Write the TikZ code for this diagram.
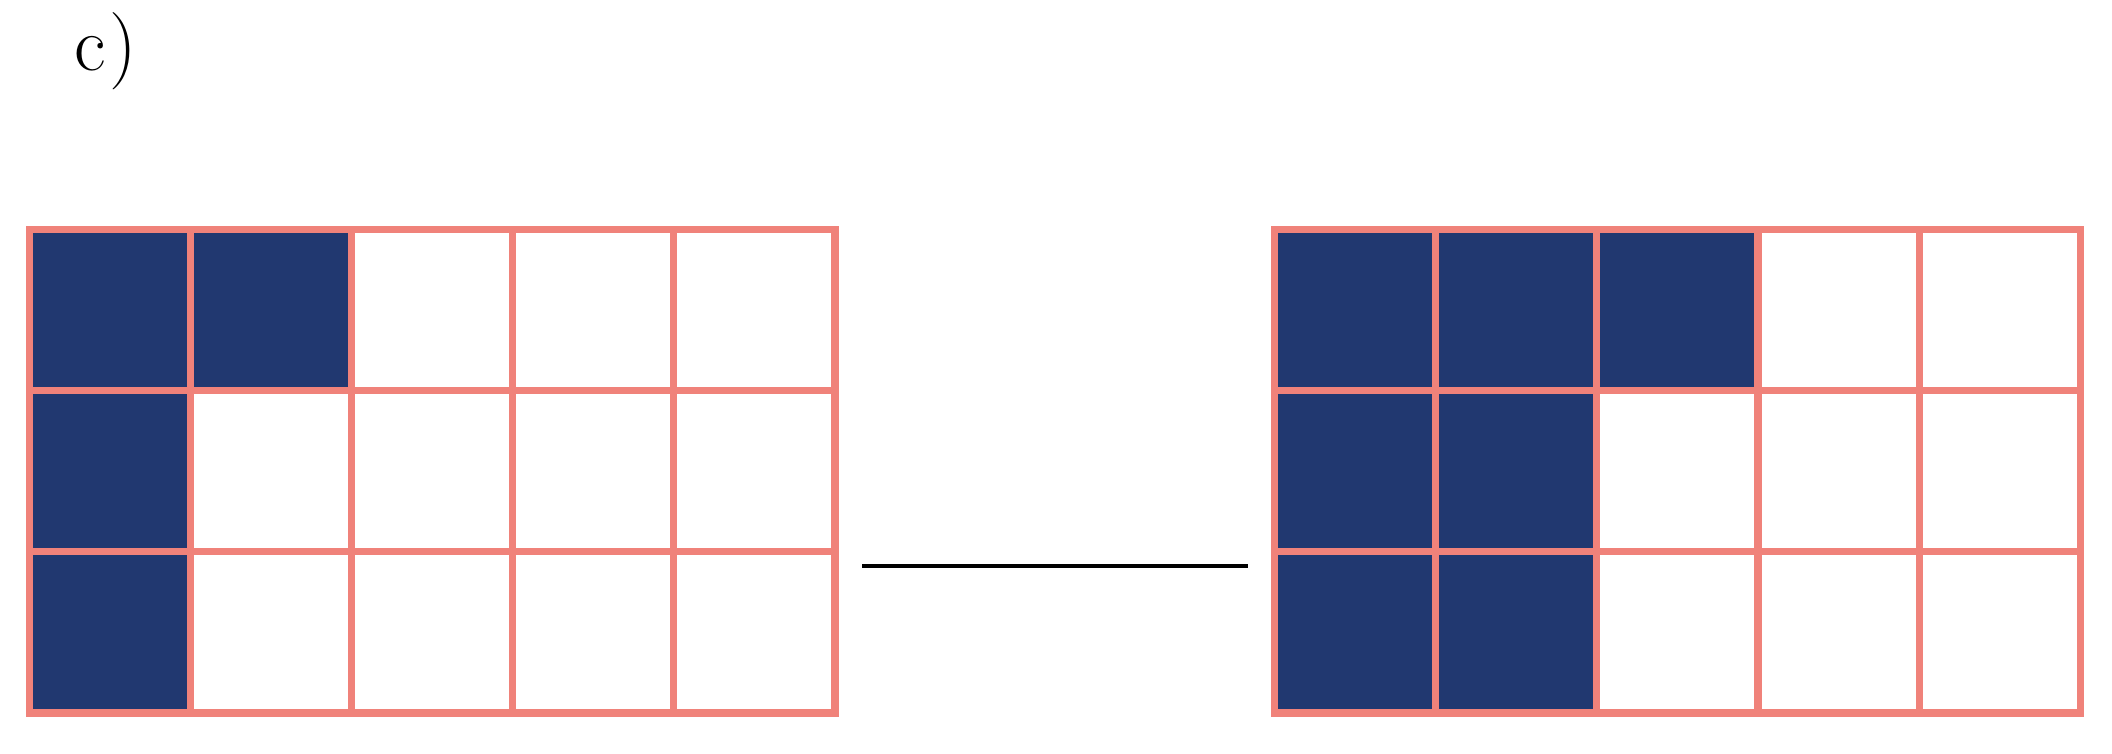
\documentclass[tikz,border=0pt]{standalone}
\usetikzlibrary{positioning}
\definecolor{gridpink}{RGB}{240,130,122}
\definecolor{cellnavy}{RGB}{33,56,112}
\tikzset{
  gridline/.style={draw=gridpink,line width=2pt},
  onecell/.style={fill=cellnavy},
  joinline/.style={draw=black,line width=1.15pt,shorten >=0.27cm,shorten <=0.27cm}
}
\begin{document}
\begin{tikzpicture}
\useasboundingbox (0,0) rectangle (21.12,7.53);
\node[anchor=base west,inner sep=0pt,font=\fontsize{22}{26}\selectfont] (label) at (0.74,6.82) {c\kern1pt)};
% left grid
\begin{scope}[shift={(0.295,0.40)},x=1.611cm,y=1.611cm]
\foreach \i/\j in {0/2,1/2,0/1,0/0}
  \fill[onecell] (\i,\j) rectangle ++(1,1);
\draw[gridline,step=1] (0,0) grid (5,3);
\draw[gridline] (0,0) rectangle (5,3);
\coordinate (leftgrid) at (5,0.912);
\end{scope}
% right grid
\begin{scope}[shift={(12.747,0.40)},x=1.611cm,y=1.611cm]
\foreach \i/\j in {0/2,1/2,2/2,0/1,1/1,0/0,1/0}
  \fill[onecell] (\i,\j) rectangle ++(1,1);
\draw[gridline,step=1] (0,0) grid (5,3);
\draw[gridline] (0,0) rectangle (5,3);
\coordinate (rightgrid) at (0,0.912);
\end{scope}
\draw[joinline] (leftgrid) -- (rightgrid);
\end{tikzpicture}
\end{document}
